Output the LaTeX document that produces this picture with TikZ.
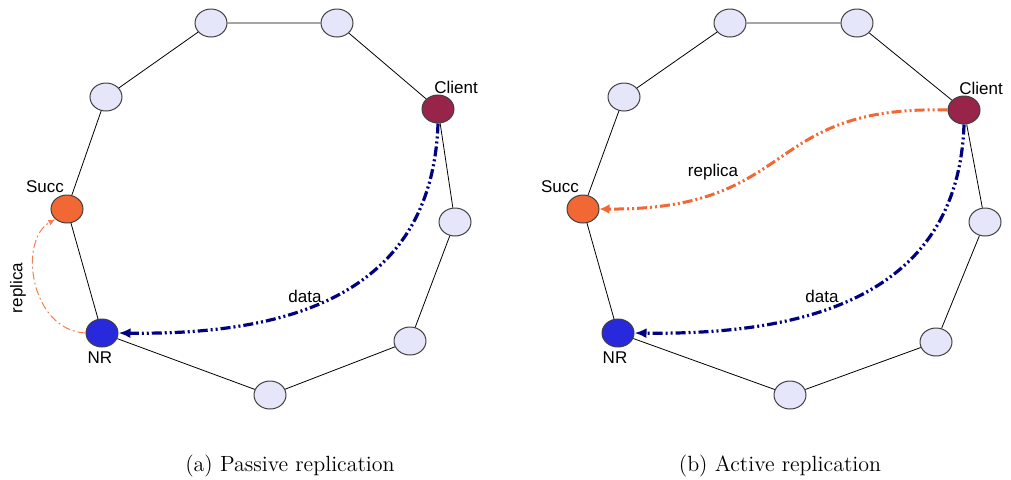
\documentclass[tikz,border=0pt]{standalone}
\usepackage{fontspec}
\newfontfamily\lblfont{Liberation Sans}
\usetikzlibrary{arrows.meta, shapes.geometric}

\definecolor{peerfill}{RGB}{230,230,250}
\definecolor{clientred}{RGB}{152,36,74}
\definecolor{succorange}{RGB}{242,104,52}
\definecolor{nrblue}{RGB}{40,40,220}
\definecolor{datanavy}{RGB}{0,0,128}

\begin{document}
\begin{tikzpicture}[x=0.5pt, y=-0.5pt,
		peer/.style={ellipse, draw=black!75, line width=0.5pt, fill=peerfill, minimum width=16pt, minimum height=14pt, inner sep=0pt},
		lbl/.style={font=\lblfont\fontsize{8.5}{10}\selectfont, inner sep=1pt},
		ring/.style={black, line width=0.4pt},
		datalink/.style={datanavy, line width=1.6pt, dash pattern=on 5pt off 1.5pt on 1pt off 1.5pt on 1pt off 1.5pt, -{Latex[length=6pt, width=5pt]}},
		replink/.style={succorange, line width=1.5pt, dash pattern=on 5pt off 1.5pt on 1pt off 1.5pt on 1pt off 1.5pt, -{Latex[length=5pt, width=5pt]}},
		thinrep/.style={succorange!85!white, line width=0.5pt, dash pattern=on 4pt off 1.5pt on 1pt off 1.5pt, -{Latex[length=3.5pt, width=3pt]}},
		caption/.style={font=\fontsize{11}{13}\selectfont}]
		\useasboundingbox (0,0) rectangle (1011,479);

		% (a) passive
		\node [peer] (a1) at (211,23) {};
		\node [peer] (a2) at (337,23) {};
		\node [peer, fill=clientred] (aclient) at (438,109) {};
		\node [peer] (a4) at (455,222) {};
		\node [peer] (a5) at (410,341) {};
		\node [peer] (a6) at (270,395) {};
		\node [peer, fill=nrblue] (anr) at (102,333) {};
		\node [peer, fill=succorange] (asucc) at (67,209) {};
		\node [peer] (a9) at (106,97) {};
		\draw [ring] (a1) -- (a2) -- (aclient) -- (a4) -- (a5) -- (a6) -- (anr) -- (asucc) -- (a9) -- (a1);

		\node [lbl] (aclientlbl) at (456,87) {Client};
		\node [lbl] (asucclbl) at (45,187) {Succ};
		\node [lbl] (anrlbl) at (100,358) {NR};

		\draw [datalink] (aclient.south) .. controls (432,300) and (280,335) .. (anr.east);
		\node [lbl] (adata) at (305,296) {data};
		\draw [thinrep] (anr.west) .. controls (30,330) and (18,240) .. (asucc.south west);
		\node [lbl, rotate=90] (arep) at (18,288) {replica};

		% (b) active
		\node [peer] (b1) at (730,23) {};
		\node [peer] (b2) at (857,23) {};
		\node [peer, fill=clientred] (bclient) at (964,110) {};
		\node [peer] (b4) at (985,222) {};
		\node [peer] (b5) at (936,342) {};
		\node [peer] (b6) at (790,395) {};
		\node [peer, fill=nrblue] (bnr) at (618,333) {};
		\node [peer, fill=succorange] (bsucc) at (583,209) {};
		\node [peer] (b9) at (624,97) {};
		\draw [ring] (b1) -- (b2) -- (bclient) -- (b4) -- (b5) -- (b6) -- (bnr) -- (bsucc) -- (b9) -- (b1);

		\node [lbl] (bclientlbl) at (981,88) {Client};
		\node [lbl] (bsucclbl) at (560,187) {Succ};
		\node [lbl] (bnrlbl) at (615,358) {NR};

		\draw [datalink] (bclient.south) .. controls (958,300) and (800,335) .. (bnr.east);
		\node [lbl] (bdata) at (822,296) {data};
		\draw [replink] (bclient.west) .. controls (760,105) and (800,210) .. (bsucc.east);
		\node [lbl] (brep) at (713,172) {replica};

		% captions
		\node [caption] (capa) at (290,466) {(a) Passive replication};
		\node [caption] (capb) at (780,466) {(b) Active replication};
	\end{tikzpicture}
\end{document}
